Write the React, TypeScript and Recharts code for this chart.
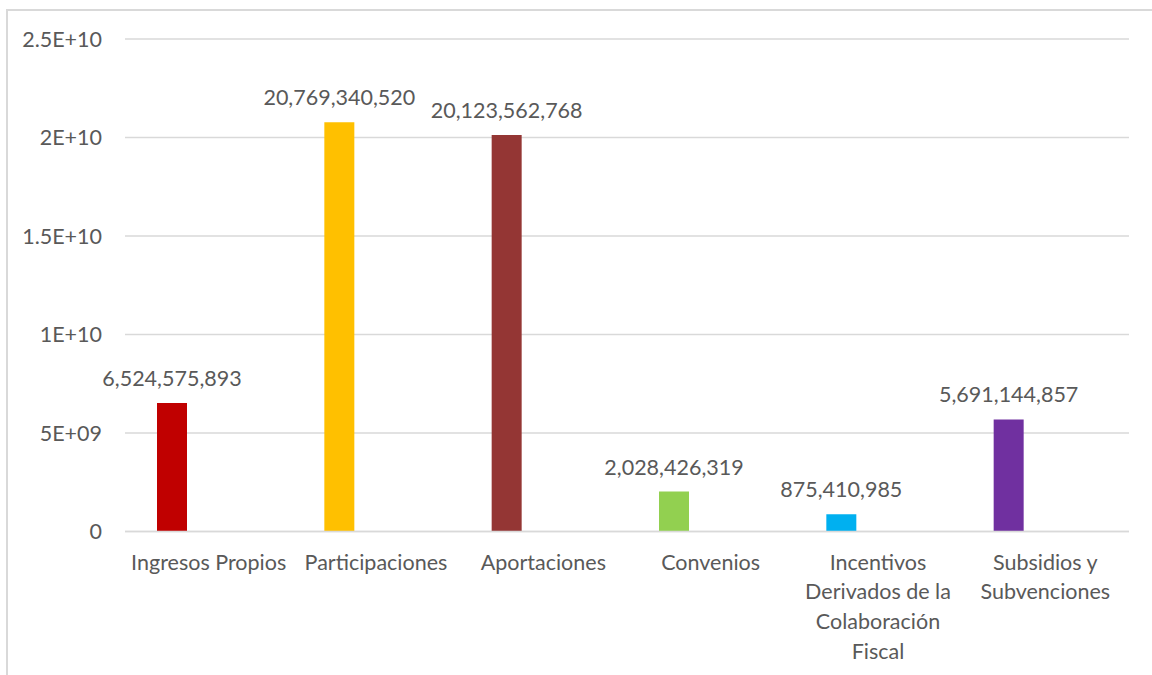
import React from "react";
import { BarChart, Bar, XAxis, YAxis, CartesianGrid, Cell, LabelList, Text } from "recharts";

const categories = [
  "Ingresos Propios",
  "Participaciones",
  "Aportaciones",
  "Convenios",
  "Incentivos Derivados de la Colaboración Fiscal",
  "Subsidios y Subvenciones",
];
const amounts = [6524575893, 20769340520, 20123562768, 2028426319, 875410985, 5691144857];
const barColors = ["#C00000", "#FFC000", "#943634", "#92D050", "#00B0F0", "#7030A0"];
const yTicks = [0, 5e9, 1e10, 1.5e10, 2e10, 2.5e10];
const yTickLabels = ["0", "5E+09", "1E+10", "1.5E+10", "2E+10", "2.5E+10"];

const data = categories.map((name, i) => ({ name, value: amounts[i], empty: null }));

const FONT = "Lato, 'Open Sans', sans-serif";
const TEXT_COLOR = "#595959";
const FS = 21.5;

const CategoryTick = (props: any) => {
  const { x, y, payload } = props;
  return (
    <Text
      x={x}
      y={y + 15}
      width={130}
      textAnchor="middle"
      verticalAnchor="start"
      lineHeight={29.7}
      fill={TEXT_COLOR}
      style={{ fontFamily: FONT, fontSize: FS }}
      fontSize={FS}
      fontFamily={FONT}
    >
      {payload.value}
    </Text>
  );
};

export default function App() {
  return (
    <div style={{ position: "absolute", left: 0, top: 0, width: 1152, height: 675, background: "#fff" }}>
      <div
        style={{
          position: "absolute",
          left: 6,
          top: 9,
          width: 1160,
          height: 700,
          borderLeft: "2px solid #d9d9d9",
          borderTop: "2px solid #d9d9d9",
        }}
      />
      <div style={{ position: "absolute", left: 0, top: 0 }}>
        <BarChart
          width={1152}
          height={675}
          data={data}
          margin={{ top: 39, right: 23, left: 0, bottom: 0 }}
          barSize={30}
          barGap={43}
        >
          <CartesianGrid vertical={false} stroke="#d9d9d9" strokeWidth={1.5} />
          <XAxis
            dataKey="name"
            height={143.5}
            axisLine={{ stroke: "#d9d9d9", strokeWidth: 1.5 }}
            tickLine={false}
            interval={0}
            tick={<CategoryTick />}
          />
          <YAxis
            width={125}
            domain={[0, 2.5e10]}
            ticks={yTicks}
            axisLine={false}
            tickLine={false}
            tickMargin={17}
            tickFormatter={(v: number) => yTickLabels[yTicks.indexOf(v)] ?? String(v)}
            tick={{ fill: TEXT_COLOR, fontSize: FS, fontFamily: FONT }}
          />
          <Bar dataKey="value" isAnimationActive={false}>
            {data.map((d, i) => (
              <Cell key={d.name} fill={barColors[i]} />
            ))}
            <LabelList
              dataKey="value"
              position="top"
              offset={17}
              fill={TEXT_COLOR}
              style={{ fontFamily: FONT, fontSize: FS }}
              formatter={(v: any) => Number(v).toLocaleString("en-US")}
            />
          </Bar>
          <Bar dataKey="empty" isAnimationActive={false} fill="#ffffff" />
        </BarChart>
      </div>
    </div>
  );
}
